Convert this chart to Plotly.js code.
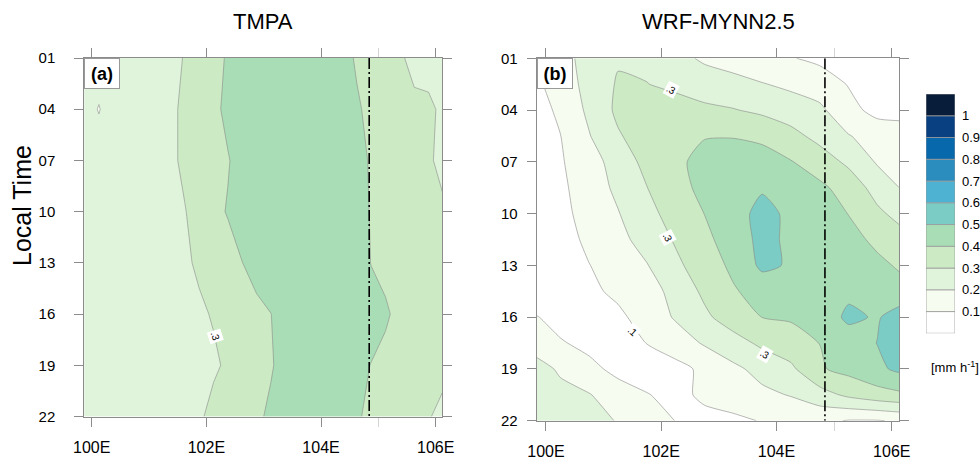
<!DOCTYPE html>
<html><head><meta charset="utf-8">
<script src="https://cdn.plot.ly/plotly-3.0.1.min.js"></script>
<style>html,body{margin:0;padding:0;background:#fff}#chart{width:980px;height:459px}</style>
</head><body><div id="chart"></div>
<script>
// ---------- data ----------
const lonA = [99.86, 100.125, 100.375, 100.625, 100.875, 101.125, 101.375, 101.625, 101.875, 102.125, 102.375, 102.625, 102.875, 103.125, 103.375, 103.625, 103.875, 104.125, 104.375, 104.625, 104.875, 105.125, 105.375, 105.625, 105.875, 106.13];
const timeA = [1, 4, 7, 10, 13, 16, 19, 22];
const zA = [
  [.24,.25,.25,.26,.27,.27,.29,.302,.34,.37,.41,.44,.46,.47,.47,.47,.46,.45,.43,.39,.37,.35,.31,.28,.27,.27],
  [.24,.195,.25,.26,.27,.28,.29,.31,.35,.38,.42,.45,.47,.48,.48,.48,.47,.46,.44,.41,.38,.36,.34,.315,.315,.285],
  [.24,.25,.25,.26,.27,.28,.29,.31,.34,.37,.395,.43,.46,.47,.48,.48,.48,.47,.45,.43,.39,.37,.35,.34,.305,.29],
  [.24,.25,.25,.26,.27,.27,.28,.298,.32,.38,.405,.44,.46,.47,.48,.48,.48,.47,.45,.43,.395,.37,.35,.34,.32,.305],
  [.24,.25,.25,.26,.27,.27,.28,.29,.31,.34,.37,.399,.43,.45,.47,.48,.48,.47,.46,.44,.398,.38,.36,.35,.34,.33],
  [.23,.24,.25,.25,.26,.26,.27,.28,.29,.305,.33,.35,.38,.399,.43,.45,.46,.46,.46,.45,.43,.41,.38,.36,.34,.33],
  [.23,.24,.24,.25,.25,.26,.27,.27,.28,.29,.31,.34,.37,.395,.42,.44,.45,.45,.44,.42,.398,.38,.36,.34,.33,.32],
  [.22,.23,.23,.24,.25,.25,.26,.27,.29,.32,.35,.37,.39,.41,.43,.44,.45,.44,.43,.41,.38,.36,.34,.32,.305,.28]
];
const lonB = [99.84, 100.25, 100.75, 101.25, 101.75, 102.25, 102.75, 103.25, 103.75, 104.25, 104.75, 105.25, 105.75, 106.13];
const timeB = [1, 2.5, 4, 5.5, 7, 8.5, 10, 11.5, 13, 14.5, 16, 17.5, 19, 20.5, 22];
const zB = [
  [.09,.16,.24,.29,.28,.23,.185,.16,.13,.105,.08,.06,.05,.05],
  [.08,.15,.23,.31,.302,.28,.25,.23,.205,.18,.15,.095,.07,.07],
  [.06,.12,.22,.32,.35,.34,.32,.305,.28,.25,.22,.13,.07,.065],
  [.05,.098,.195,.29,.35,.38,.395,.395,.38,.33,.27,.205,.16,.15],
  [.05,.09,.16,.24,.33,.38,.43,.45,.44,.405,.35,.28,.19,.16],
  [.04,.08,.15,.22,.298,.36,.43,.47,.49,.47,.42,.36,.26,.20],
  [.04,.07,.14,.195,.27,.34,.401,.46,.53,.48,.44,.398,.32,.27],
  [.03,.06,.12,.17,.24,.31,.38,.44,.53,.48,.46,.43,.38,.34],
  [.03,.05,.098,.14,.195,.28,.35,.42,.52,.49,.46,.45,.42,.39],
  [.02,.04,.08,.12,.16,.23,.32,.39,.44,.46,.47,.48,.47,.43],
  [.105,.06,.05,.08,.14,.21,.28,.35,.401,.41,.44,.52,.49,.55],
  [.15,.11,.07,.05,.102,.15,.21,.26,.32,.36,.401,.45,.502,.55],
  [.24,.185,.13,.07,.05,.07,.12,.18,.23,.28,.39,.43,.48,.52],
  [.25,.23,.205,.15,.105,.07,.12,.15,.18,.205,.26,.32,.36,.38],
  [.28,.26,.23,.195,.15,.098,.07,.08,.105,.13,.12,.095,.095,.11]
];
const levelStart = 0.1, levelEnd = 1.0, levelStep = 0.1;
const levelLabels = ['0.1','0.2','0.3','0.4','0.5','0.6','0.7','0.8','0.9','1'];
const fillColors = ['#ffffff','#f7fcf0','#e0f3db','#ccebc5','#a8ddb5','#7bccc4','#4eb3d3','#2b8cbe','#0868ac','#084081','#081d3a'];
const lonTicks = [100, 102, 104, 106];
const lonTickText = ['100E','102E','104E','106E'];
const lonMinorTicks = [105];
const timeTicks = [1, 4, 7, 10, 13, 16, 19, 22];
const timeTickText = ['01','04','07','10','13','16','19','22'];
const refLon = 104.84;
const panelTitles = ['TMPA', 'WRF-MYNN2.5'];
const panelTags = ['(a)', '(b)'];
const contourLabelsA = [{text: '.3', lon: 102.16, time: 17.3, angle: 72}];
const contourLabelsB = [
  {text: '.3', lon: 102.17, time: 2.78, angle: 28},
  {text: '.3', lon: 102.11, time: 11.39, angle: 62},
  {text: '.3', lon: 103.80, time: 18.19, angle: 30},
  {text: '.1', lon: 101.50, time: 16.84, angle: 42}
];
const unitsText = '[mm h<sup>-1</sup>]';
const yTitle = 'Local Time';

// ---------- styling ----------
const FONT = 'Liberation Sans, Arial, Helvetica, sans-serif';
const colorscale = fillColors.map((c, i) => [i / (fillColors.length - 1), c]);

function contourTrace(x, y, z, xa, ya, smooth) {
  return {
    type: 'contour', x: x, y: y, z: z, xaxis: xa, yaxis: ya,
    autocontour: false,
    contours: {start: levelStart, end: levelEnd, size: levelStep, coloring: 'fill', showlines: true},
    line: {color: '#8a8a8a', width: 0.6, smoothing: smooth},
    colorscale: colorscale, showscale: false, hoverinfo: 'skip'
  };
}
function refLine(xa, ya, t) {
  return {
    type: 'scatter', mode: 'lines', x: [refLon, refLon], y: [t[0], t[t.length - 1]],
    xaxis: xa, yaxis: ya, line: {color: '#000', width: 1.6, dash: '11px,3px,2px,3px'},
    hoverinfo: 'skip', showlegend: false
  };
}
const cbTrace = {
  type: 'bar', x: fillColors.map(() => 0), y: fillColors.map(() => 1),
  base: fillColors.map((c, i) => i), width: 1,
  marker: {color: fillColors, line: {color: '#9a9a9a', width: 0.8}},
  xaxis: 'x3', yaxis: 'y3', hoverinfo: 'skip', showlegend: false
};

function xAxis(domain, anchor, range) {
  return {
    domain: domain, anchor: anchor, range: range, autorange: false,
    tickvals: lonTicks, ticktext: lonTickText, ticks: 'outside', ticklen: 9,
    tickcolor: '#8c8c8c', tickwidth: 1, showline: true, linecolor: '#8c8c8c', linewidth: 1,
    mirror: 'ticks', showgrid: false, zeroline: false, ticklabelstandoff: 7,
    minor: {tickmode: 'array', tickvals: lonMinorTicks, ticks: 'outside', ticklen: 9, tickcolor: '#d4d4d4', tickwidth: 1, showgrid: false},
    tickfont: {family: FONT, size: 16, color: '#000'}
  };
}
function yAxis(domain, anchor, standoff) {
  return {
    domain: domain, anchor: anchor, range: [22, 1], autorange: false,
    tickvals: timeTicks, ticktext: timeTickText, ticks: 'outside', ticklen: 9,
    tickcolor: '#8c8c8c', tickwidth: 1, showline: true, linecolor: '#8c8c8c', linewidth: 1,
    mirror: 'ticks', showgrid: false, zeroline: false, ticklabelstandoff: standoff,
    tickfont: {family: FONT, size: 15, color: '#000'}
  };
}

const W = 980, H = 459;
const annotations = [];
[['x', 'y'], ['x2', 'y2']].forEach((ax, i) => {
  annotations.push({
    xref: ax[0] + ' domain', yref: 'paper', x: 0.5, y: 1 - 22 / H, xanchor: 'center', yanchor: 'middle',
    text: panelTitles[i], showarrow: false, font: {family: FONT, size: 22, color: '#000'}
  });
  annotations.push({
    xref: ax[0] + ' domain', yref: ax[1] + ' domain', x: 0, y: 1, xanchor: 'left', yanchor: 'top',
    text: '<b>' + panelTags[i] + '</b>', showarrow: false, bgcolor: '#fff', bordercolor: '#999',
    borderwidth: 1, borderpad: 0, width: 34, height: 29, align: 'center', valign: 'middle',
    font: {family: FONT, size: 18, color: '#000'}
  });
});
[[contourLabelsA, 'x', 'y'], [contourLabelsB, 'x2', 'y2']].forEach(([list, xa, ya]) => {
  list.forEach(l => annotations.push({
    xref: xa, yref: ya, x: l.lon, y: l.time, text: l.text, textangle: l.angle, showarrow: false,
    bgcolor: '#fff', borderpad: 1, font: {family: FONT, size: 10, color: '#000'}
  }));
});
annotations.push({
  xref: 'paper', yref: 'paper', x: 22 / W, y: 1 - 206 / H, text: yTitle, textangle: -90, showarrow: false,
  xanchor: 'center', yanchor: 'middle', font: {family: FONT, size: 25, color: '#000'}
});
annotations.push({
  xref: 'paper', yref: 'paper', x: 929 / W, y: 1 - 367 / H, text: unitsText, showarrow: false,
  xanchor: 'left', yanchor: 'middle', font: {family: FONT, size: 13, color: '#000'}
});

const layout = {
  width: W, height: H, margin: {l: 0, r: 0, t: 0, b: 0},
  paper_bgcolor: '#fff', plot_bgcolor: '#fff', showlegend: false,
  xaxis: xAxis([84.3 / W, 442 / W], 'y', [99.87, 106.11]),
  yaxis: yAxis([1 - 416.5 / H, 1 - 58 / H], 'x', 16),
  xaxis2: xAxis([536.7 / W, 899.3 / W], 'y2', [99.84, 106.13]),
  yaxis2: yAxis([1 - 420.7 / H, 1 - 58.3 / H], 'x2', 6),
  xaxis3: {domain: [926 / W, 955 / W], anchor: 'y3', range: [-0.5, 0.5], visible: false, fixedrange: true},
  yaxis3: {domain: [1 - 333.3 / H, 1 - 94 / H], anchor: 'x3', side: 'right', range: [0, fillColors.length],
           autorange: false, tickvals: levelLabels.map((s, i) => i + 1), ticktext: levelLabels,
           ticks: '', showline: false, showgrid: false, zeroline: false, ticklabelstandoff: 6,
           tickfont: {family: FONT, size: 13, color: '#000'}},
  annotations: annotations
};

const data = [
  contourTrace(lonA, timeA, zA, 'x', 'y', 0),
  contourTrace(lonB, timeB, zB, 'x2', 'y2', 0.6),
  refLine('x', 'y', timeA), refLine('x2', 'y2', timeB),
  cbTrace
];
Plotly.newPlot('chart', data, layout, {staticPlot: true, displayModeBar: false});
</script>
</body></html>
